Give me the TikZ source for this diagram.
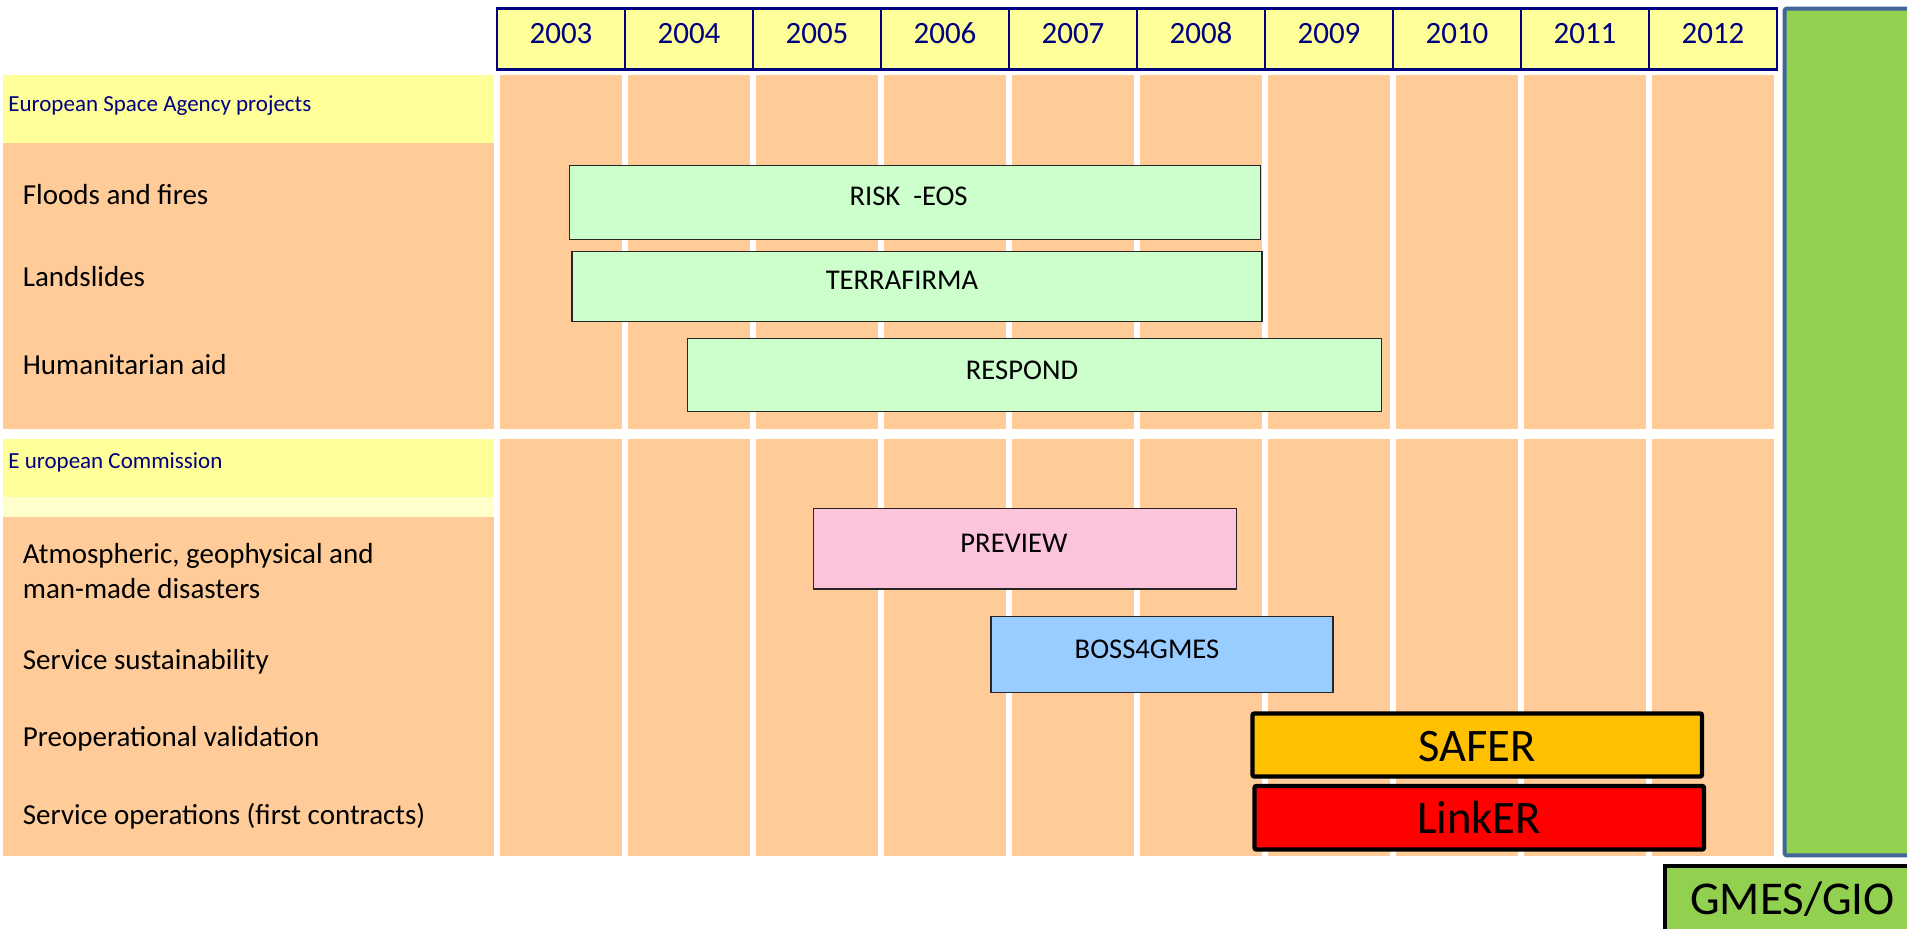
\documentclass[tikz,border=0pt]{standalone}
\usepackage{fontspec}
\setmainfont{Carlito}
\definecolor{navy}{HTML}{000080}
\definecolor{hdryellow}{HTML}{FFFF99}
\definecolor{paleyellow}{HTML}{FFFFCC}
\definecolor{bodyorange}{HTML}{FFCC99}
\definecolor{barmint}{HTML}{CCFFCC}
\definecolor{barpink}{HTML}{FCC4DA}
\definecolor{barblue}{HTML}{99CCFF}
\definecolor{saferorange}{HTML}{FFC000}
\definecolor{linkred}{HTML}{FF0000}
\definecolor{gmgreen}{HTML}{92D050}
\definecolor{steelb}{HTML}{41679A}
\begin{document}
\begin{tikzpicture}[x=0.5pt,y=-0.5pt,
  yearlbl/.style={font=\fontsize{15.5}{18}\selectfont, text=navy, anchor=base, inner sep=0pt},
  secthead/.style={font=\fontsize{11.5}{14}\selectfont, text=navy, anchor=base west, inner sep=0pt},
  catlbl/.style={font=\fontsize{14.5}{17}\selectfont, anchor=base west, inner sep=0pt},
  barlbl/.style={font=\fontsize{14.3}{17}\selectfont, anchor=base, inner sep=0pt},
  bigbarlbl/.style={font=\fontsize{23.3}{28}\selectfont, anchor=base, inner sep=0pt},
  lightbar/.style={draw=black!85, line width=0.7pt},
  strongbar/.style={draw=black, line width=2.2pt, rounded corners=1pt},
]
\useasboundingbox (0,0) rectangle (1907,929);
\clip (0,0) rectangle (1907,929);

% left label column
\fill[hdryellow] (3,75) rectangle (494,143.3);
\fill[bodyorange] (3,143.3) rectangle (494,429);
\fill[hdryellow] (3,439) rectangle (494,497);
\fill[paleyellow] (3,497) rectangle (494,517);
\fill[bodyorange] (3,517) rectangle (494,856);

% year columns
\foreach \yr [count=\i from 0] in {2003,2004,2005,2006,2007,2008,2009,2010,2011,2012} {
  \draw[navy, line width=1.35pt, fill=hdryellow] (497+128*\i, 8.7) rectangle (625+128*\i, 69.3);
  \fill[bodyorange] (500+128*\i, 75) rectangle (622+128*\i, 429);
  \fill[bodyorange] (500+128*\i, 439) rectangle (622+128*\i, 856);
}
\foreach \yr [count=\i from 0] in {2003,2004,2005,2006,2007,2008,2009,2010,2011,2012} {
  \node[yearlbl] (yr\yr) at (561+128*\i, 43.3) {\yr};
}

% section headers and category labels
\node[secthead] (esa) at (8,111.7) {European Space Agency projects};
\node[catlbl] (floods) at (22.5,205) {Floods and fires};
\node[catlbl] (landsl) at (22.5,286.7) {Landslides};
\node[catlbl] (human) at (22.5,375) {Humanitarian aid};
\node[secthead] (ec) at (8,468.3) {E uropean Commission};
\node[catlbl] (atmosA) at (22.5,564) {Atmospheric, geophysical and};
\node[catlbl] (atmosB) at (22.5,598.3) {man-made disasters};
\node[catlbl] (sustain) at (22.5,669.3) {Service sustainability};
\node[catlbl] (preop) at (22.5,746.7) {Preoperational validation};
\node[catlbl] (servop) at (22.5,825) {Service operations (first contracts)};

% ESA bars
\draw[lightbar, fill=barmint] (569.3,165.7) rectangle (1260.6,239.3);
\node[barlbl] (riskeos) at (908.6,206) {RISK~~-EOS};
\draw[lightbar, fill=barmint] (572,251.7) rectangle (1262,321.7);
\node[barlbl] (terra) at (902,290) {TERRAFIRMA};
\draw[lightbar, fill=barmint] (687.2,338.3) rectangle (1381.6,411.7);
\node[barlbl] (respond) at (1022,379.3) {RESPOND};

% EC bars
\draw[lightbar, fill=barpink] (813.3,508.3) rectangle (1236.7,589);
\node[barlbl] (preview) at (1014,552.3) {PREVIEW};
\draw[lightbar, fill=barblue] (991,616.7) rectangle (1333,692.3);
\node[barlbl] (boss) at (1147,658.3) {BOSS4GMES};
\draw[strongbar, fill=saferorange] (1252.5,713.5) rectangle (1702,776.5);
\node[bigbarlbl] (safer) at (1476.8,761.7) {SAFER};
\draw[strongbar, fill=linkred] (1254.5,786) rectangle (1704,849.5);
\node[bigbarlbl] (linker) at (1479,834) {LinkER};

% GMES/GIO
\draw[steelb, line width=2pt, fill=gmgreen, rounded corners=1pt] (1784.7,8.7) rectangle (1990,855.3);
\draw[black, line width=2pt, fill=gmgreen] (1665.3,866) rectangle (1990,990);
\node[bigbarlbl, font=\fontsize{23.5}{28}\selectfont] (gmes) at (1792.5,914) {GMES/GIO};
\end{tikzpicture}
\end{document}
